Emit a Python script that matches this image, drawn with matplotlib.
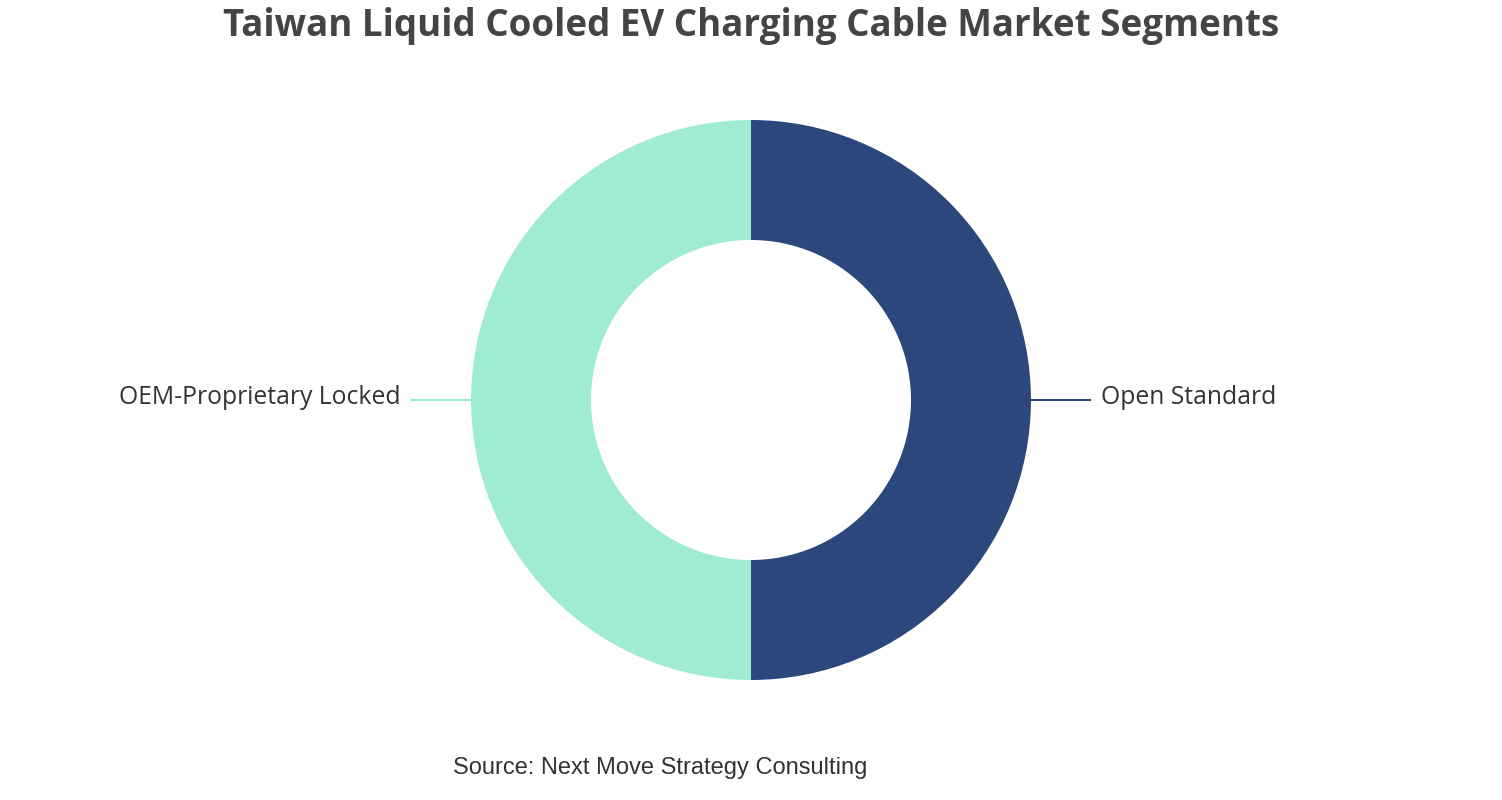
import matplotlib.pyplot as plt

labels = ["Open Standard", "OEM-Proprietary Locked"]
values = [50, 50]
colors = ["#2b477c", "#a0ecd2"]

fig = plt.figure(figsize=(15.02, 8), dpi=100)
ax = fig.add_axes([0, 0, 1, 1])

cx, cy, r = 751, 400, 280
wedges, _ = ax.pie(values, colors=colors, startangle=90, counterclock=False,
                   radius=r, center=(cx, cy), frame=True,
                   wedgeprops=dict(width=120, linewidth=0))
ax.set_xlim(0, 1502)
ax.set_ylim(0, 800)
ax.set_aspect("equal")
ax.axis("off")

# leader lines and labels
ax.plot([cx + r, cx + r + 59], [cy, cy], color=colors[0], lw=1.5)
ax.text(cx + r + 70, cy + 2, labels[0], ha="left", va="center",
        fontsize=17.8, color="#333333", family="Open Sans")
ax.plot([cx - r, cx - r - 59], [cy, cy], color=colors[1], lw=1.5)
ax.text(cx - r - 70, cy + 2, labels[1], ha="right", va="center",
        fontsize=17.8, color="#333333", family="Open Sans")

fig.text(751 / 1502, 1 - 26 / 800, "Taiwan Liquid Cooled EV Charging Cable Market Segments",
         ha="center", va="center", fontsize=26.5, fontweight="bold",
         color="#444444", family="Open Sans")
fig.text(660 / 1502, 1 - 768 / 800, "Source: Next Move Strategy Consulting",
         ha="center", va="center", fontsize=17, color="#333333",
         family="Liberation Sans")

fig.savefig("out.png", dpi=100, facecolor="white")
